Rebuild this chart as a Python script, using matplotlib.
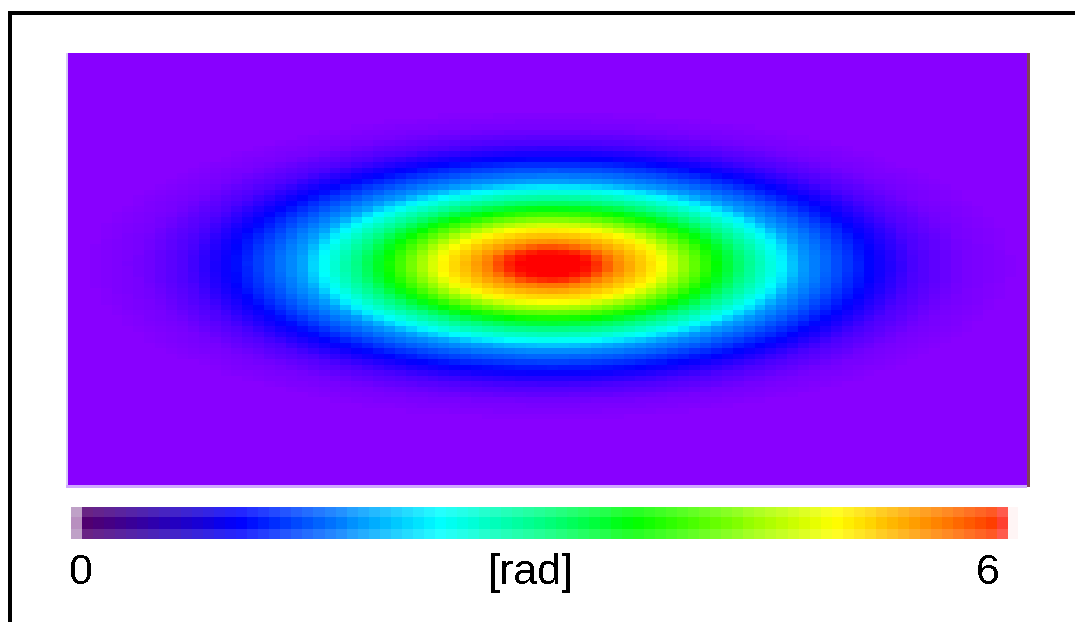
import numpy as np
import matplotlib.pyplot as plt
from matplotlib.colors import LinearSegmentedColormap
from matplotlib.patches import Rectangle

W, H = 1075, 622

# phase profile read along the long axis (distance from centre in px -> rad)
radius_px = [0, 30, 42, 55, 82, 110, 135, 165, 192, 229, 250, 285, 320, 364, 410, 470, 2000]
phase_rad = [6.0, 6.0, 5.9, 5.72, 5.3, 4.9, 4.3, 3.6, 3.0, 2.3, 1.82, 1.41, 1.0, 0.45, 0.15, 0.0, 0.0]
aspect = 3.0          # long axis / short axis
centre = (551, 265)   # spot centre in figure px
n_cols, n_rows = 88, 79

vmin, vmax = 0, 6
cbar_labels = ["0", "[rad]", "6"]

# colour maps
pos = [0.0, 1.0, 2.3, 3.0, 3.6, 4.9, 5.6, 6.0]
img_cols = ["#8800ff", "#0000ff", "#00ffff", "#00ff80", "#00ff00", "#ffff00", "#ff8000", "#ff0000"]
bar_cols = ["#500070", "#0000ff", "#00ffff", "#00ff80", "#00ff00", "#ffff00", "#ff8000", "#ff3000"]
img_cmap = LinearSegmentedColormap.from_list("img", list(zip(np.array(pos) / 6, img_cols)))
bar_cmap = LinearSegmentedColormap.from_list("bar", list(zip(np.array(pos) / 6, bar_cols)))


def fx(x):
    return x / W


def fy(y):
    return 1 - y / H


fig = plt.figure(figsize=(W / 100, H / 100), dpi=100)
fig.patch.set_facecolor("white")

# frame lines top / left
fig.patches.append(Rectangle((fx(8), fy(15)), 1 - fx(8), 4 / H, transform=fig.transFigure,
                             color="black", lw=0))
fig.patches.append(Rectangle((fx(8), 0), 4 / W, fy(11), transform=fig.transFigure,
                             color="black", lw=0))

# heat map
x0, x1, y0, y1 = 68, 1027, 53, 485
ax = fig.add_axes([fx(x0), fy(y1), (x1 - x0) / W, (y1 - y0) / H])
xe = np.linspace(x0, x1, n_cols + 1)
ye = np.linspace(y0, y1, n_rows + 1)
xc = (xe[:-1] + xe[1:]) / 2
yc = (ye[:-1] + ye[1:]) / 2
XX, YY = np.meshgrid(xc, yc)
rr = np.hypot(XX - centre[0], (YY - centre[1]) * aspect)
phase = np.interp(rr, radius_px, phase_rad)
ax.imshow(phase, cmap=img_cmap, vmin=vmin, vmax=vmax, extent=(x0, x1, y1, y0),
          aspect="auto", interpolation="nearest")
ax.set_axis_off()

# thin edges round the map
fig.patches.append(Rectangle((fx(66), fy(487)), 2 / W, (487 - 53) / H, transform=fig.transFigure,
                             color="#d8c8f8", lw=0))
fig.patches.append(Rectangle((fx(66), fy(488)), (1027 - 66) / W, 3 / H, transform=fig.transFigure,
                             color="#d0a8ff", lw=0))
fig.patches.append(Rectangle((fx(1027), fy(487)), 3 / W, (487 - 53) / H, transform=fig.transFigure,
                             color="#804058", lw=0))

# colour bar made of blocks, three rows (lighter top and bottom)
cx0, cx1, cy0, cy1 = 71, 1018, 507, 539
cax = fig.add_axes([fx(cx0), fy(cy1), (cx1 - cx0) / W, (cy1 - cy0) / H])
n_cells = 84
edges = np.concatenate([[71], np.linspace(82, 1008, n_cells + 1), [1018]])
vals = np.linspace(vmin, vmax, n_cells)
mid = bar_cmap((vals - vmin) / (vmax - vmin))[:, :3]
mid = np.vstack([[0.72, 0.56, 0.75], mid, [1.0, 0.96, 0.96]])
mid[-2] = [1.0, 0.25, 0.19]
side = mid * 0.86 + 0.14
side[0] = [0.75, 0.63, 0.78]
side[-1] = [1.0, 0.96, 0.96]
row_y = [507, 517, 529, 539]
for i in range(3):
    for j in range(len(mid)):
        shade = side[j] if i != 1 else mid[j]
        cax.add_patch(Rectangle((edges[j], row_y[i]), edges[j + 1] - edges[j],
                                row_y[i + 1] - row_y[i], color=shade, lw=0))
cax.set_xlim(cx0, cx1)
cax.set_ylim(cy1, cy0)
cax.set_axis_off()

font = ["Liberation Sans", "DejaVu Sans"]
for lab, x in zip(cbar_labels, [81, 531, 988]):
    t = fig.text(fx(x), fy(573), lab, ha="center", va="center", fontsize=31,
                 family=font, color="black")
    t.set_antialiased(False)

plt.savefig("out.png", dpi=100)
